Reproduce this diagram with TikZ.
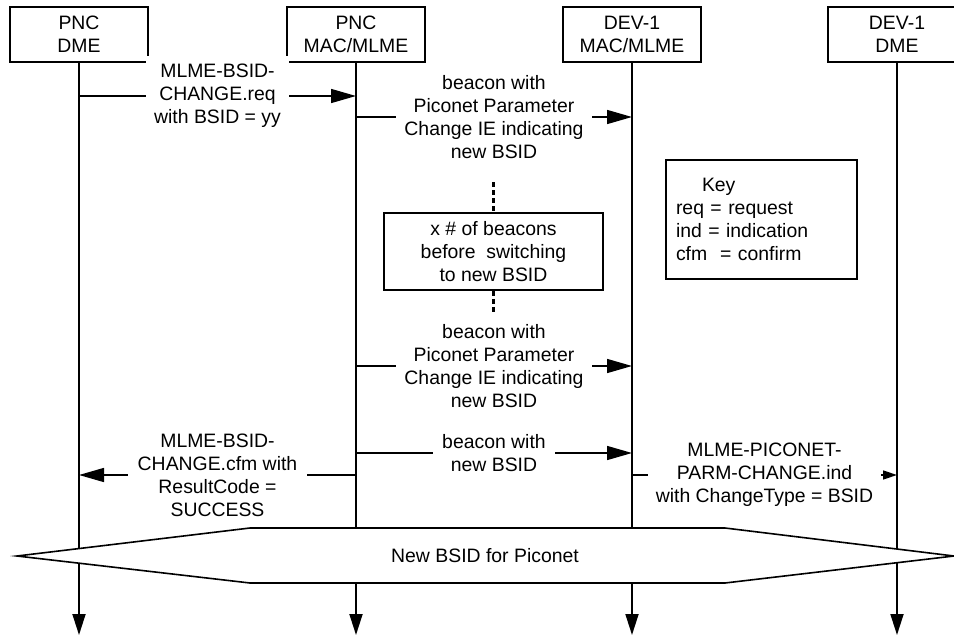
\documentclass[tikz,border=0pt]{standalone}
\usepackage{fontspec}
\setmainfont{Liberation Sans}
\usetikzlibrary{arrows.meta}
\begin{document}
\begin{tikzpicture}[x=1pt,y=-1pt,
  every node/.style={font=\fontsize{19.4}{23}\selectfont},
  entity/.style={draw, line width=1.6pt, minimum width=138pt, minimum height=55pt, align=center, inner sep=0pt},
  lifeline/.style={line width=1.8pt, -{Triangle[length=21pt,width=13pt]}},
  msg/.style={line width=1.5pt, -{Triangle[length=25pt,width=14pt]}},
  smallmsg/.style={line width=1.5pt, -{Triangle[length=14pt,width=9pt]}},
  lbl/.style={fill=white, align=center, inner xsep=8pt, inner ysep=6pt},
  dots/.style={line width=2.6pt, dash pattern=on 5pt off 3pt},
  frame/.style={draw, line width=1.6pt},
]
\useasboundingbox (0,0) rectangle (954,637);

% entities
\node[entity] (pncdme) at (79,34.5) {PNC\\DME};
\node[entity] (pncmac) at (356,34.5) {PNC\\MAC/MLME};
\node[entity] (devmac) at (632,34.5) {DEV-1\\MAC/MLME};
\node[entity] (devdme) at (897,34.5) {DEV-1\\DME};

% lifelines
\coordinate (pncdmeEnd) at (79,635);
\coordinate (pncmacEnd) at (356,635);
\coordinate (devmacEnd) at (632,635);
\coordinate (devdmeEnd) at (897,635);
\draw[lifeline] (pncdme.south) -- (pncdmeEnd);
\draw[lifeline] (pncmac.south) -- (pncmacEnd);
\draw[lifeline] (devmac.south) -- (devmacEnd);
\draw[lifeline] (devdme.south) -- (devdmeEnd);

% common phase band
\draw[line width=1.6pt, fill=white] (17,556) -- (250,528) -- (725,528) -- (954,556) -- (725,583) -- (250,583) -- cycle;
\node (newbsid) at (485,556) {New BSID for Piconet};

% key
\node[frame, minimum height=119pt, text width=171pt, inner xsep=10pt, align=left] (key) at (761.5,219.5)
  {\hspace*{26pt}Key\\req = request\\ind = indication\\cfm\ \ = confirm};

% repeated beacons
\node[frame, minimum width=219pt, minimum height=77pt, align=center] (xbox) at (493.5,251.5)
  {x \# of beacons\\before\ \ switching\\to new BSID};
\coordinate (dtop) at (493.5,182);
\coordinate (dbot) at (493.5,313);
\draw[dots] (dtop) -- (xbox.north);
\draw[dots] (xbox.south) -- (dbot);

% message rows
\coordinate (r1) at (0,96);
\coordinate (r2) at (0,117);
\coordinate (r3) at (0,366);
\coordinate (r4) at (0,453);
\coordinate (r5) at (0,475);

\draw[msg] (pncdme.south |- r1) -- (pncmac.south |- r1)
  node[lbl, midway, inner ysep=8pt] {MLME-BSID-\\CHANGE.req\\with BSID = yy};
\draw[msg] (pncmac.south |- r2) -- (devmac.south |- r2)
  node[lbl, midway] {beacon with\\Piconet Parameter\\Change IE indicating\\new BSID};
\draw[msg] (pncmac.south |- r3) -- (devmac.south |- r3)
  node[lbl, midway] {beacon with\\Piconet Parameter\\Change IE indicating\\new BSID};
\draw[msg] (pncmac.south |- r4) -- (devmac.south |- r4)
  node[lbl, midway, inner xsep=9pt] {beacon with\\new BSID};
\draw[msg] (pncmac.south |- r5) -- (pncdme.south |- r5)
  node[lbl, midway, inner xsep=10pt] {MLME-BSID-\\CHANGE.cfm with\\ResultCode =\\SUCCESS};
\draw[smallmsg] (devmac.south |- r5) -- (devdme.south |- r5)
  node[lbl, midway] {MLME-PICONET-\\PARM-CHANGE.ind\\with ChangeType = BSID};
\end{tikzpicture}
\end{document}
